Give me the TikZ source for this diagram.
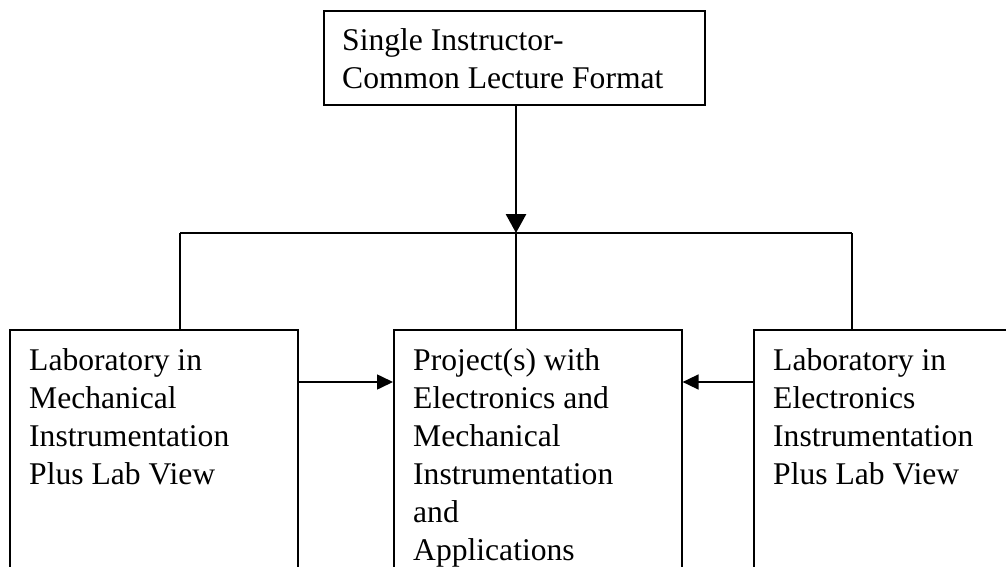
\documentclass[tikz,border=0pt]{standalone}
\usepackage{fontspec}
\setmainfont{Liberation Serif}
\usetikzlibrary{arrows.meta}
\begin{document}
\begin{tikzpicture}[x=1pt,y=1pt,
  box/.style={draw, line width=1.6pt, inner sep=0pt, rectangle, anchor=north west},
  boxtext/.style={font=\fontsize{31.6}{38}\selectfont, align=left, inner sep=0pt, anchor=north west},
  heavyline/.style={line width=2.8pt},
  lightline/.style={line width=1.6pt},
  mainarrow/.style={heavyline, -{Triangle[length=19pt,width=20pt]}},
  sidearrow/.style={lightline, -{Triangle[length=16pt,width=15pt]}}]
\clip (0,0) rectangle (1006,566);
\useasboundingbox (0,0) rectangle (1006,566);
% boxes
\node[box, minimum width=381pt, minimum height=94pt] (top) at (323,556) {};
\node[boxtext] (toptext) at (342,537.6) {Single Instructor-\\Common Lecture Format};
\node[box, minimum width=288pt, minimum height=300pt] (left) at (9,237) {};
\node[boxtext] (lefttext) at (29,217.6) {Laboratory in\\Mechanical\\Instrumentation\\Plus Lab View};
\node[box, minimum width=288pt, minimum height=300pt] (mid) at (393,237) {};
\node[boxtext] (midtext) at (413,217.6) {Project(s) with\\Electronics and\\Mechanical\\Instrumentation\\and\\Applications};
\node[box, minimum width=288pt, minimum height=300pt] (right) at (753,237) {};
\node[boxtext] (righttext) at (773,217.6) {Laboratory in\\Electronics\\Instrumentation\\Plus Lab View};
% junction coordinates
\coordinate (jc) at (516,333);
\coordinate (jl) at (180,333);
\coordinate (jr) at (852,333);
\coordinate (ay) at (0,184);
% connectors
\draw[mainarrow] (top.south -| jc) -- (jc);
\draw[lightline] (jl) -- (jr);
\draw[heavyline] (jl) -- (jl |- left.north);
\draw[heavyline] (jc) -- (jc |- mid.north);
\draw[heavyline] (jr) -- (jr |- right.north);
\draw[sidearrow] (left.east |- ay) -- (mid.west |- ay);
\draw[sidearrow] (right.west |- ay) -- (mid.east |- ay);
\end{tikzpicture}
\end{document}
